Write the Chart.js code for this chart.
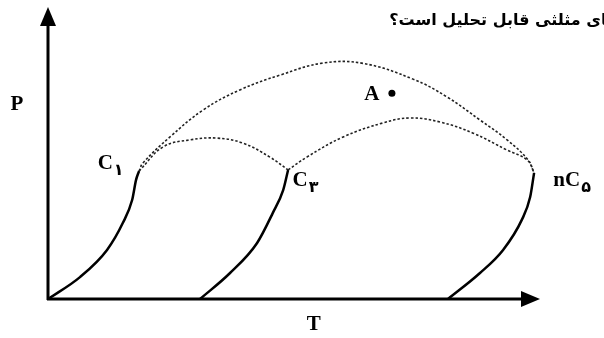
<!DOCTYPE html>
<html>
<head>
<meta charset="utf-8">
<script src="https://cdn.jsdelivr.net/npm/chart.js@4.4.1/dist/chart.umd.min.js"></script>
<style>
  html, body { margin: 0; padding: 0; background: #fff; }
  #wrap { width: 604px; height: 338px; }
</style>
</head>
<body>
<div id="wrap"><canvas id="phase"></canvas></div>
<script>
// vapour pressure curves (T, P) in arbitrary units, ending at critical points
const curveC1 = [[0, 0], [6.5, 7.5], [12.0, 16.8], [15.2, 26.0], [17.1, 33.9], [17.9, 40.8], [18.5, 43.8]];
const curveC3 = [[30.9, 0], [37.0, 8.9], [42.5, 19.2], [45.7, 29.5], [47.8, 37.3], [48.8, 44.2]];
const curveC5 = [[81.3, 0], [87.8, 8.9], [92.5, 16.8], [96.3, 27.1], [98.0, 34.9], [98.8, 43.2]];

// critical loci (dotted)
const locusC1C3 = [[18.5, 43.8], [23.4, 52.1], [28.9, 54.5], [34.3, 55.1], [39.6, 53.4], [45.1, 48.6], [48.8, 44.2]];
const locusC3C5 = [[48.8, 44.2], [52.6, 48.6], [60.0, 55.5], [68.1, 60.3], [73.6, 62.0], [79.7, 60.6], [86.4, 56.8], [93.3, 51.0], [97.4, 47.6], [98.8, 43.2]];
const locusC1C5 = [[18.5, 43.8], [19.3, 46.6], [24.8, 55.5], [31.5, 64.7], [39.0, 71.6], [47.2, 76.7], [55.9, 80.8], [64.0, 80.7], [74.2, 75.3], [81.1, 69.2], [87.8, 61.3], [93.3, 54.5], [97.6, 47.6], [98.8, 43.2]];

const pointA = [[69.9, 70.5]];

// question line, cut by the right edge of the picture
const question = "های مثلثی قابل تحلیل است؟";

const toXY = (arr) => arr.map(([x, y]) => ({ x, y }));

const solid = (data) => ({
  data: toXY(data),
  showLine: true,
  borderColor: "#000",
  borderWidth: 2.5,
  pointRadius: 0,
  cubicInterpolationMode: "monotone",
  fill: false,
});

const dotted = (data) => ({
  data: toXY(data),
  showLine: true,
  borderColor: "#222",
  borderWidth: 1.6,
  borderDash: [2.5, 2],
  pointRadius: 0,
  tension: 0.4,
  fill: false,
});

// axes with arrows + all labels
const annotate = {
  id: "annotate",
  afterDraw(chart) {
    const { ctx, chartArea: a, scales } = chart;
    const px = (v) => scales.x.getPixelForValue(v);
    const py = (v) => scales.y.getPixelForValue(v);
    const x0 = px(0), y0 = py(0);
    ctx.save();
    ctx.strokeStyle = "#000";
    ctx.fillStyle = "#000";
    ctx.lineWidth = 3;
    ctx.beginPath();
    ctx.moveTo(x0, y0 + 1);
    ctx.lineTo(x0, a.top + 12);
    ctx.moveTo(x0 - 1, y0);
    ctx.lineTo(a.right - 12, y0);
    ctx.stroke();
    // arrow heads
    ctx.beginPath();
    ctx.moveTo(x0, a.top);
    ctx.lineTo(x0 - 8, a.top + 19);
    ctx.lineTo(x0 + 8, a.top + 19);
    ctx.closePath();
    ctx.fill();
    ctx.beginPath();
    ctx.moveTo(a.right, y0);
    ctx.lineTo(a.right - 19, y0 - 8);
    ctx.lineTo(a.right - 19, y0 + 8);
    ctx.closePath();
    ctx.fill();

    ctx.textBaseline = "alphabetic";
    ctx.textAlign = "center";
    ctx.font = "bold 21px 'Liberation Serif', 'DejaVu Serif'";
    ctx.fillText("P", 17, 110);
    ctx.fillText("T", px(54), y0 + 31);

    ctx.textAlign = "left";
    // label with a small lowered subscript
    const lab = (main, sub, x, y) => {
      ctx.font = "bold 21px 'Liberation Serif', 'DejaVu Serif'";
      ctx.fillText(main, x, y);
      const w = ctx.measureText(main).width;
      ctx.font = "bold 16px 'DejaVu Sans'";
      ctx.fillText(sub, x + w + 1, y + 6);
    };
    lab("C", "۱", px(10.1), py(44.4));
    lab("nC", "۵", px(102.7), py(38.6));
    lab("C", "۳", px(49.7), py(38.8));
    ctx.font = "bold 19px 'Liberation Serif', 'DejaVu Serif'";
    lab("A", "", px(64.3), py(68));

    ctx.font = "bold 16px 'DejaVu Sans'";
    ctx.textAlign = "right";
    ctx.fillText(question, 618, 25);
    ctx.restore();
  },
};

new Chart(document.getElementById("phase"), {
  type: "scatter",
  data: {
    datasets: [
      solid(curveC1),
      solid(curveC3),
      solid(curveC5),
      dotted(locusC1C3),
      dotted(locusC3C5),
      dotted(locusC1C5),
      {
        data: toXY(pointA),
        pointRadius: 3.5,
        pointBackgroundColor: "#000",
        pointBorderWidth: 0,
        showLine: false,
      },
    ],
  },
  options: {
    responsive: true,
    maintainAspectRatio: false,
    animation: false,
    layout: { padding: { left: 48, top: 7, right: 64, bottom: 39 } },
    plugins: { legend: { display: false }, tooltip: { enabled: false } },
    scales: {
      x: { type: "linear", min: 0, max: 100, display: false },
      y: { type: "linear", min: 0, max: 100, display: false },
    },
  },
  plugins: [annotate],
});
</script>
</body>
</html>
